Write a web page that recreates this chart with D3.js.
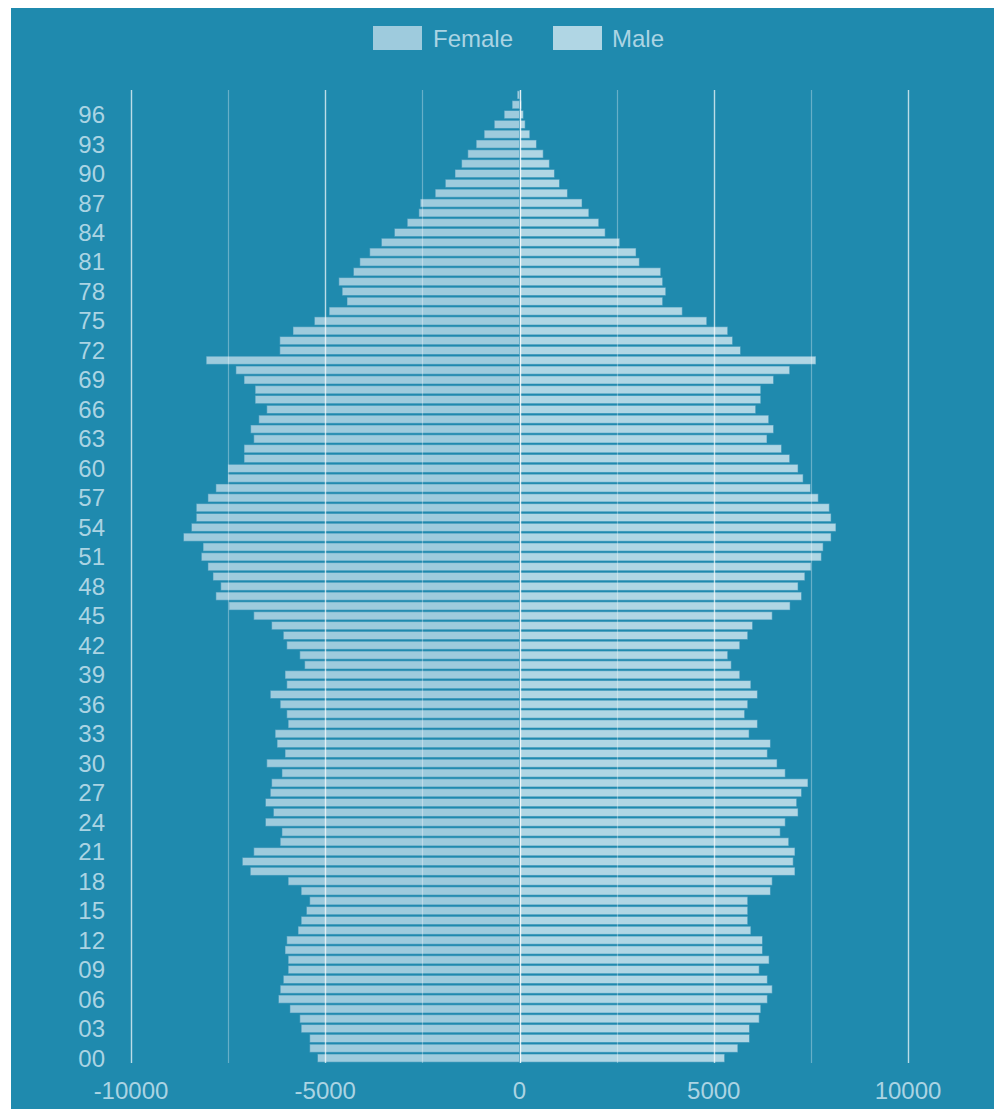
<!DOCTYPE html>
<html>
<head>
<meta charset="utf-8">
<script src="https://cdn.jsdelivr.net/npm/d3@7"></script>
<style>
  html, body { margin: 0; padding: 0; background: #ffffff; }
  svg { display: block; }
  text { font-family: "Liberation Sans", Arial, Helvetica, sans-serif; }
</style>
</head>
<body>
<svg id="chart" width="997" height="1111"></svg>
<script>
// Ages 0..98 (bottom to top)
const ages = d3.range(0, 99);
const female = [
  -5200, -5400, -5400, -5620, -5655, -5910, -6205, -6160, -6080, -5955,
  -5955, -6035, -5990, -5700, -5620, -5485, -5400, -5620, -5955, -6930,
  -7135, -6840, -6160, -6115, -6540, -6335, -6540, -6415, -6380, -6115,
  -6505, -6035, -6240, -6290, -5955, -5990, -6160, -6415, -5990, -6035,
  -5530, -5655, -5990, -6080, -6380, -6840, -7480, -7815, -7690, -7890,
  -8020, -8190, -8145, -8650, -8445, -8320, -8320, -8020, -7815, -7505,
  -7505, -7090, -7090, -6840, -6920, -6710, -6505, -6805, -6805, -7090,
  -7300, -8065, -6170, -6170, -5830, -5280, -4900, -4440, -4565, -4650,
  -4275, -4110, -3855, -3555, -3220, -2890, -2590, -2555, -2170, -1910,
  -1660, -1490, -1330, -1115, -910, -650, -395, -190, -60
];
const male = [
  5280, 5620, 5920, 5920, 6170, 6210, 6380, 6505, 6380, 6170,
  6425, 6255, 6255, 5955, 5875, 5875, 5875, 6460, 6505, 7090,
  7045, 7090, 6930, 6710, 6840, 7170, 7135, 7260, 7425, 6840,
  6630, 6380, 6460, 5910, 6125, 5795, 5875, 6125, 5955, 5670,
  5450, 5360, 5670, 5875, 6000, 6505, 6965, 7260, 7170, 7345,
  7505, 7770, 7815, 8020, 8145, 8020, 7975, 7690, 7490, 7300,
  7170, 6955, 6745, 6370, 6540, 6415, 6080, 6210, 6210, 6540,
  6955, 7630, 5690, 5485, 5360, 4820, 4190, 3685, 3765, 3685,
  3635, 3085, 3000, 2580, 2205, 2040, 1785, 1610, 1235, 1030,
  900, 770, 610, 437, 265, 145, 100, 50, 20
];
const seriesNames = ["Female", "Male"];
const xTickValues = [-10000, -5000, 0, 5000, 10000];
const gridValues = d3.range(-10000, 10001, 2500);
const yTickAges = d3.range(0, 97, 3);

const colors = { Female: "#9ecbdd", Male: "#b0d6e4" };
const textColor = "#abd4e3";
const bg = "#1f8aae";

const svg = d3.select("#chart");
svg.append("rect").attr("x", 11).attr("y", 8).attr("width", 983).attr("height", 1101).attr("fill", bg);

const x = d3.scaleLinear().domain([-10000, 10000]).range([131, 908]);
const y = d3.scaleBand()
  .domain(ages.slice().reverse())
  .range([90, 1063])
  .paddingInner(0.17)
  .paddingOuter(0.085);

// bars
const rows = ages.map((a, i) => ({ age: a, f: female[i], m: male[i] }));
const gBars = svg.append("g");
gBars.selectAll("rect.f").data(rows).join("rect")
  .attr("class", "f")
  .attr("x", d => x(d.f))
  .attr("width", d => x(0) - x(d.f))
  .attr("y", d => y(d.age))
  .attr("height", y.bandwidth())
  .attr("fill", colors.Female)
  .attr("stroke", "rgba(40,140,178,0.55)")
  .attr("stroke-width", 1);
gBars.selectAll("rect.m").data(rows).join("rect")
  .attr("class", "m")
  .attr("x", x(0))
  .attr("width", d => x(d.m) - x(0))
  .attr("y", d => y(d.age))
  .attr("height", y.bandwidth())
  .attr("fill", colors.Male)
  .attr("stroke", "rgba(40,140,178,0.55)")
  .attr("stroke-width", 1);

// grid lines (on top, translucent)
svg.append("g").selectAll("line").data(gridValues).join("line")
  .attr("x1", d => Math.round(x(d)) + 0.5)
  .attr("x2", d => Math.round(x(d)) + 0.5)
  .attr("y1", 90).attr("y2", 1063)
  .attr("stroke", d => d === 0 ? "rgba(255,255,255,0.85)" : (d % 5000 === 0 ? "rgba(255,255,255,0.7)" : "rgba(255,255,255,0.32)"))
  .attr("stroke-width", d => d % 5000 === 0 ? 1.4 : 1.2);

// y axis labels
svg.append("g").selectAll("text").data(yTickAges).join("text")
  .attr("x", 105)
  .attr("y", d => y(d) + y.step() * 0.5 - y.step() * 0.085 + 8.5)
  .attr("text-anchor", "end")
  .attr("font-size", 24)
  .attr("fill", textColor)
  .text(d => d3.format("02d")(d));

// x axis labels
svg.append("g").selectAll("text").data(xTickValues).join("text")
  .attr("x", d => x(d))
  .attr("y", 1099)
  .attr("text-anchor", "middle")
  .attr("font-size", 24)
  .attr("fill", textColor)
  .text(d => d);

// legend
const legend = svg.append("g");
const legendPos = [{ name: "Female", bx: 373, tx: 433 }, { name: "Male", bx: 553, tx: 612 }];
legendPos.forEach(l => {
  legend.append("rect").attr("x", l.bx).attr("y", 26).attr("width", 49).attr("height", 24)
    .attr("fill", colors[l.name]);
  legend.append("text").attr("x", l.tx).attr("y", 47).attr("font-size", 24)
    .attr("fill", textColor).text(l.name);
});
</script>
</body>
</html>
